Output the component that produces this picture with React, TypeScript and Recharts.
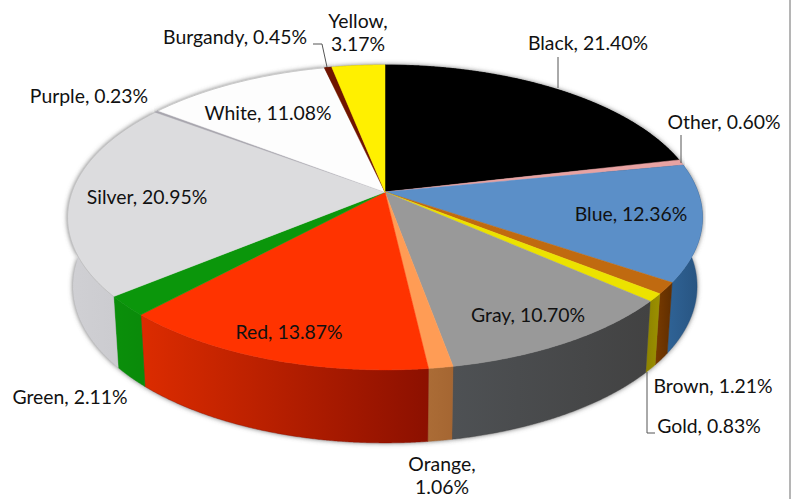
import React from "react";
import { PieChart, Pie } from "recharts";

const names = ["Black", "Other", "Blue", "Brown", "Gold", "Gray", "Orange", "Red", "Green", "Silver", "Purple", "White", "Burgandy", "Yellow"];
const values = [21.4, 0.6, 12.36, 1.21, 0.83, 10.7, 1.06, 13.87, 2.11, 20.95, 0.23, 11.08, 0.45, 3.17];
const data = names.map((name, i) => ({ name, value: values[i] }));

const topColors = ["#000000", "#e8a3a3", "#5b8fc8", "#c06a10", "#ece200", "#999999", "#ff9c55", "#ff3300", "#0b960b", "#dcdcde", "#a8a6ae", "#fdfdfd", "#701400", "#fff000"];
const wallLeft = ["#000000", "#b07070", "#2f6396", "#7a3b00", "#8c8200", "#4e5154", "#ab6c36", "#dc2c00", "#0a8f0a", "#d0d0d4", "#9a88b0", "#e0e0e0", "#501000", "#c0b000"];
const wallRight = ["#000000", "#b07070", "#27527e", "#5f2e00", "#9c9000", "#424242", "#a56632", "#8c1000", "#0a8a0a", "#c8c8cc", "#9a88b0", "#e0e0e0", "#501000", "#c0b000"];

// projected disc: k is the perspective tilt, squash the vertical radius
const tilt = 0.167;
const squash = 148.2;
const steps = 4;

const project = (p: any, deg: number) => {
  const t = ((90 - deg) * Math.PI) / 180;
  const u = Math.sin(t);
  const v = Math.cos(t);
  const d = 1 + tilt * v;
  return { x: p.cx + (p.outerRadius * u) / d, y: p.cy - (squash * v) / d, v };
};

const lower = (p: any, pt: { x: number; y: number; v: number }) => ({
  x: p.cx + (pt.x - p.cx) * 0.983,
  y: pt.y + 68 - 5 * pt.v,
});

const arcPoints = (p: any) => {
  const n = Math.max(2, Math.ceil(Math.abs(p.startAngle - p.endAngle) * steps));
  const pts = [];
  for (let i = 0; i <= n; i++) {
    pts.push(project(p, p.startAngle + ((p.endAngle - p.startAngle) * i) / n));
  }
  return pts;
};

const toPath = (pts: { x: number; y: number }[]) =>
  pts.map((q, i) => `${i ? "L" : "M"}${q.x.toFixed(2)} ${q.y.toFixed(2)}`).join(" ");

const wallPath = (p: any) => {
  const pts = arcPoints(p);
  const bottom = pts.map((q) => lower(p, q)).reverse();
  return toPath([...pts, ...bottom]) + " Z";
};

const ShadowShape = (p: any) => <path d={wallPath(p)} fill="#666" filter="url(#pieShadow)" />;

const WallShape = (p: any) => (
  <path d={wallPath(p)} fill={`url(#wall-${p.index})`} stroke={wallRight[p.index]} strokeWidth={0.4} />
);

const TopShape = (p: any) => {
  const pts = arcPoints(p);
  const light = ["Silver", "White", "Purple"].includes(names[p.index]);
  return (
    <g>
      <path d={`M${p.cx} ${p.cy} ${toPath(pts).replace("M", "L")} Z`} fill={topColors[p.index]} stroke={topColors[p.index]} strokeWidth={0.5} />
      {light && <path d={toPath(pts)} fill="none" stroke="#b8b8b8" strokeWidth={0.8} />}
    </g>
  );
};

const labelSpots: Record<string, { x: number; y: number; wrap?: boolean; line?: string }> = {
  Black: { x: 588, y: 44, line: "M558 57 L558 88" },
  Other: { x: 724, y: 123, line: "M681 135 L681 163" },
  Blue: { x: 631, y: 215 },
  Brown: { x: 713, y: 387 },
  Gold: { x: 709, y: 427, line: "M647 372 L647 433 L655 433" },
  Gray: { x: 528, y: 316 },
  Orange: { x: 442, y: 465, wrap: true },
  Red: { x: 289, y: 333 },
  Green: { x: 70, y: 398 },
  Silver: { x: 147, y: 198 },
  Purple: { x: 89, y: 97 },
  White: { x: 268, y: 114 },
  Burgandy: { x: 235, y: 38, line: "M313 44 L322 44 L327 67" },
  Yellow: { x: 358, y: 22, wrap: true },
};

const renderLabel = (p: any) => {
  const name = names[p.index];
  const spot = labelSpots[name];
  const pct = `${values[p.index].toFixed(2)}%`;
  const textProps = { textAnchor: "middle" as const, fontFamily: "Lato, Carlito, sans-serif", fontSize: 19.4, fill: "#111" };
  return (
    <g key={name}>
      {spot.line && <path d={spot.line} fill="none" stroke="#555" strokeWidth={1} />}
      {spot.wrap ? (
        <text {...textProps} x={spot.x} y={spot.y + 6}>
          <tspan x={spot.x}>{name},</tspan>
          <tspan x={spot.x} dy={23}>{pct}</tspan>
        </text>
      ) : (
        <text {...textProps} x={spot.x} y={spot.y + 6}>{`${name}, ${pct}`}</text>
      )}
    </g>
  );
};

const commonPie = {
  data,
  dataKey: "value",
  nameKey: "name",
  cx: 385,
  cy: 192,
  outerRadius: 313,
  startAngle: 90,
  endAngle: -270,
  isAnimationActive: false,
  stroke: "none",
};

export default function App() {
  return (
    <div style={{ position: "absolute", left: 0, top: 0, width: 789, height: 499, borderRight: "2px solid #b5b5b5", background: "#fff" }}>
      <PieChart width={789} height={499} margin={{ top: 0, right: 0, bottom: 0, left: 0 }}>
        <defs>
          <filter id="pieShadow" x="-10%" y="-10%" width="120%" height="120%">
            <feGaussianBlur stdDeviation="2.5" />
          </filter>
          {names.map((name, i) => (
            <linearGradient key={name} id={`wall-${i}`} x1="0" y1="0" x2="1" y2="0">
              <stop offset="0%" stopColor={wallLeft[i]} />
              <stop offset="100%" stopColor={wallRight[i]} />
            </linearGradient>
          ))}
        </defs>
        <Pie {...commonPie} shape={ShadowShape} />
        <Pie {...commonPie} shape={WallShape} />
        <Pie {...commonPie} shape={TopShape} label={renderLabel} labelLine={false} />
      </PieChart>
    </div>
  );
}
